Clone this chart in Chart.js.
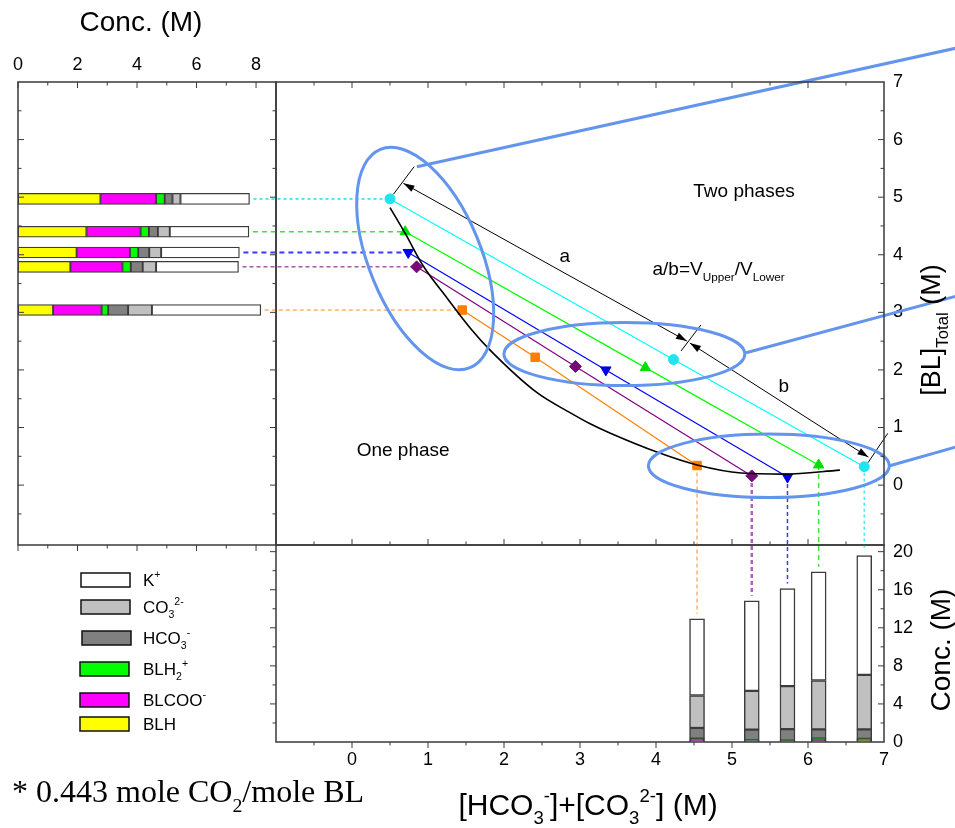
<!DOCTYPE html>
<html>
<head>
<meta charset="utf-8">
<title>BL / K2CO3 phase diagram</title>
<script src="https://cdn.jsdelivr.net/npm/chart.js@4.4.1/dist/chart.umd.min.js"></script>
<style>
  html, body { margin: 0; padding: 0; background: #fff; }
  #wrap { position: relative; width: 955px; height: 828px; overflow: hidden; }
  #wrap canvas { position: absolute; left: 0; top: 0; }
</style>
</head>
<body>
<div id="wrap">
  <canvas id="leftCanvas" width="955" height="828"></canvas>
  <canvas id="bottomCanvas" width="955" height="828"></canvas>
  <canvas id="mainCanvas" width="955" height="828"></canvas>
</div>
<script>
// ================= DATA =================
// tie lines, order: cyan, green, blue, purple, orange
const upperX = [0.50, 0.70, 0.74, 0.85, 1.45];
const upperY = [4.97, 4.40, 4.04, 3.79, 3.04];
const midX   = [4.23, 3.86, 3.34, 2.94, 2.41];
const midY   = [2.18, 2.04, 2.00, 2.06, 2.22];
const lowerX = [6.74, 6.14, 5.73, 5.26, 4.54];
const lowerY = [0.32, 0.35, 0.14, 0.16, 0.34];

// binodal curve
const curveX = [0.50, 0.70, 0.94, 1.25, 1.56, 1.82, 2.44, 2.88, 3.14, 3.40, 4.02, 4.54, 5.12, 5.69, 6.42];
const curveY = [4.82, 4.37, 3.80, 3.25, 2.72, 2.34, 1.60, 1.25, 1.06, 0.90, 0.57, 0.35, 0.21, 0.19, 0.26];

// upper phase composition (M) -> left bars
const upBLH   = [2.77, 2.30, 1.97, 1.76, 1.18];
const upBLCOO = [1.87, 1.82, 1.79, 1.75, 1.63];
const upBLH2  = [0.29, 0.28, 0.28, 0.28, 0.22];
const upHCO3  = [0.26, 0.30, 0.37, 0.40, 0.67];
const upCO3   = [0.27, 0.40, 0.40, 0.45, 0.80];
const upK     = [2.32, 2.66, 2.63, 2.77, 3.66];

// lower phase composition (M) -> bottom bars
const lowBLH   = [0.20, 0.12, 0.08, 0.05, 0.12];
const lowBLCOO = [0.07, 0.18, 0.04, 0.09, 0.17];
const lowBLH2  = [0.05, 0.05, 0.02, 0.02, 0.05];
const lowHCO3  = [1.01, 0.98, 1.22, 1.14, 1.13];
const lowCO3   = [5.73, 5.13, 4.51, 4.08, 3.42];
const lowK     = [12.52, 11.42, 10.26, 9.46, 8.06];

// tick labels
const concTicks    = [0, 2, 4, 6, 8];
const blTicks      = [0, 1, 2, 3, 4, 5, 6, 7];
const carbTicks    = [0, 1, 2, 3, 4, 5, 6, 7];
const lowConcTicks = [0, 4, 8, 12, 16, 20];

// annotations (data coords of main panel)
const dimA = [[0.677, 5.240], [4.406, 2.501]];
const dimB = [[4.446, 2.466], [6.794, 0.486]];
const dimTicks = [
  [[0.545, 5.05], [0.818, 5.53]],
  [[4.33, 2.33], [4.59, 2.78]],
  [[6.79, 0.39], [7.05, 0.90]]
];
const ellipseCenters = [[0.963, 3.934], [3.584, 2.275], [5.485, 0.335]];
const callouts = [
  [[0.854, 5.529], [7.955, 7.59]],
  [[5.185, 2.298], [7.955, 3.283]],
  [[7.075, 0.335], [7.955, 0.665]]
];

// ================= STYLE =================
const SANS = "'Liberation Sans', Arial, sans-serif";
const SERIF = "'Liberation Serif', 'Times New Roman', serif";
const FRAME = "#3a3a3a";
const tickFont = { family: SANS, size: 18 };

const speciesColors = ["#ffff00", "#ff00ff", "#00ff00", "#808080", "#c0c0c0", "#ffffff"];
const speciesLabels = [
  [["BLH", 0]],
  [["BLCOO", 0], ["-", 2]],
  [["BLH", 0], ["2", 1], ["+", 2]],
  [["HCO", 0], ["3", 1], ["-", 2]],
  [["CO", 0], ["3", 1], ["2-", 2]],
  [["K", 0], ["+", 2]]
];
// legend rows, top to bottom: K+, CO3, HCO3, BLH2, BLCOO, BLH
const legendTop = [573, 600, 631, 662, 693, 717];
const legendLeft = [81, 81, 82, 80, 80, 80];

const tieLine  = ["#00ffff", "#00ff00", "#0000ff", "#800080", "#ff8000"];
const tiePoint = ["#1ee6f0", "#00e000", "#0000ee", "#760a76", "#ff7f00"];
const tieShape = ["circle", "triangle", "triangle", "rectRot", "rect"];
const tieRot   = [0, 0, 180, 0, 0];
const tieRad   = [5, 6, 6, 6, 6];
const hDash  = [{ c: "#44e8f4", w: 2, d: [3, 3] }, { c: "#40e040", w: 1.5, d: [5, 4] },
                { c: "#3a3aff", w: 2, d: [5, 4] }, { c: "#800080", w: 1, d: [4, 3] },
                { c: "#ff8c1a", w: 1, d: [4, 3] }];
const vDash  = [{ c: "#44e8f4", w: 1.5, d: [3, 3] }, { c: "#40e040", w: 1.5, d: [5, 4] },
                { c: "#3a3aff", w: 1.5, d: [4, 3] }, { c: "#b060c0", w: 2.5, d: [4, 3] },
                { c: "#ff8c1a", w: 1, d: [4, 3] }];
const ellipseR = [[118, 56, 67.7], [120.5, 31.5, 0], [120.5, 31.7, 0]];

// ================= HELPERS =================
function total(arrays, i) {
  return arrays.reduce((s, a) => s + a[i], 0);
}

// parts: [text, mode] mode 0 normal, 1 sub, 2 sup ; y is baseline
function richText(ctx, parts, x, y, size, opt) {
  opt = opt || {};
  const family = opt.family || SANS;
  const small = size * 0.62;
  ctx.save();
  ctx.translate(x, y);
  if (opt.angle) ctx.rotate(opt.angle);
  ctx.fillStyle = "#000";
  ctx.textBaseline = "alphabetic";
  ctx.textAlign = "left";
  let w = 0;
  parts.forEach(([t, m]) => {
    ctx.font = (m ? small : size) + "px " + family;
    w += ctx.measureText(t).width;
  });
  let cx = opt.align === "center" ? -w / 2 : opt.align === "right" ? -w : 0;
  parts.forEach(([t, m]) => {
    ctx.font = (m ? small : size) + "px " + family;
    const dy = m === 1 ? size * 0.3 : m === 2 ? -size * 0.45 : 0;
    ctx.fillText(t, cx, dy);
    cx += ctx.measureText(t).width;
  });
  ctx.restore();
}

function tickMarks(ctx, scale, from, to, step, major, edge, dir) {
  for (let v = from; v <= to + 1e-9; v += step) {
    const p = scale.getPixelForValue(v);
    const isMajor = Math.abs(v / major - Math.round(v / major)) < 1e-6;
    const len = isMajor ? 6 : 3.5;
    ctx.beginPath();
    if (scale.isHorizontal()) { ctx.moveTo(p, edge); ctx.lineTo(p, edge + dir * len); }
    else { ctx.moveTo(edge, p); ctx.lineTo(edge + dir * len, p); }
    ctx.stroke();
  }
}

function frame(ctx, a) {
  ctx.strokeStyle = FRAME;
  ctx.lineWidth = 1.5;
  ctx.strokeRect(a.left, a.top, a.right - a.left, a.bottom - a.top);
  ctx.lineWidth = 1;
}

function arrowHead(ctx, x0, y0, x1, y1) {
  const ang = Math.atan2(y1 - y0, x1 - x0);
  const L = 11, W = 3.5;
  ctx.beginPath();
  ctx.moveTo(x1, y1);
  ctx.lineTo(x1 - L * Math.cos(ang) + W * Math.sin(ang), y1 - L * Math.sin(ang) - W * Math.cos(ang));
  ctx.lineTo(x1 - L * Math.cos(ang) - W * Math.sin(ang), y1 - L * Math.sin(ang) + W * Math.cos(ang));
  ctx.closePath();
  ctx.fill();
}

const upSeries = [upBLH, upBLCOO, upBLH2, upHCO3, upCO3, upK];
const lowSeries = [lowBLH, lowBLCOO, lowBLH2, lowHCO3, lowCO3, lowK];

const baseOptions = {
  responsive: false,
  animation: false,
  devicePixelRatio: 1,
  plugins: { legend: { display: false }, tooltip: { enabled: false } }
};

// ================= LEFT PANEL (upper phase) =================
const leftDecor = {
  id: "leftDecor",
  afterDraw(chart) {
    const { ctx, chartArea: a, scales: { x, y } } = chart;
    ctx.save();
    frame(ctx, a);
    tickMarks(ctx, x, 0, 8, 1, 2, a.top, 1);
    tickMarks(ctx, x, 0, 8, 1, 2, a.bottom, 1);
    tickMarks(ctx, y, -0.5, 6.5, 0.5, 1, a.left, 1);
    tickMarks(ctx, y, -0.5, 6.5, 0.5, 1, a.right, -1);
    richText(ctx, [["Conc. (M)", 0]], 141, 31, 28, { align: "center" });
    ctx.restore();
  }
};

const leftChart = new Chart(document.getElementById("leftCanvas"), {
  type: "bar",
  data: {
    datasets: upSeries.map((vals, s) => ({
      data: vals.map((v, i) => ({ x: v, y: upperY[i] })),
      backgroundColor: speciesColors[s],
      borderColor: "#3c3c3c",
      borderWidth: 1.3,
      borderSkipped: false,
      barThickness: 11
    }))
  },
  options: {
    ...baseOptions,
    indexAxis: "y",
    layout: { padding: { left: 18, top: 0, right: 679, bottom: 283 }, autoPadding: false },
    scales: {
      x: {
        type: "linear", position: "top", min: 0, max: 8.67, stacked: true, offset: false,
        grid: { display: false, drawTicks: false }, border: { display: false },
        ticks: { font: tickFont, color: "#000", padding: 6 },
        afterBuildTicks: s => { s.ticks = concTicks.map(v => ({ value: v })); },
        afterFit: s => { s.height = 82; }
      },
      y: { type: "linear", min: -1.04, max: 7, stacked: true, offset: false, display: false }
    }
  },
  plugins: [leftDecor]
});

// ================= BOTTOM PANEL (lower phase) =================
const bottomDecor = {
  id: "bottomDecor",
  afterDraw(chart) {
    const { ctx, chartArea: a, scales: { x, y } } = chart;
    ctx.save();
    frame(ctx, a);
    tickMarks(ctx, x, -0.5, 6.5, 0.5, 1, a.bottom, 1);
    tickMarks(ctx, y, 2, 20, 2, 4, a.right, -1);
    tickMarks(ctx, y, 2, 20, 2, 4, a.left, -1);

    // legend
    for (let r = 0; r < 6; r++) {
      const s = 5 - r;
      ctx.fillStyle = speciesColors[s];
      ctx.fillRect(legendLeft[r], legendTop[r], 49, 14);
      ctx.strokeStyle = "#111";
      ctx.lineWidth = 1.5;
      ctx.strokeRect(legendLeft[r], legendTop[r], 49, 14);
      richText(ctx, speciesLabels[s], 143, legendTop[r] + 13, 17);
    }

    richText(ctx, [["[HCO", 0], ["3", 1], ["-", 2], ["]+[CO", 0], ["3", 1], ["2-", 2], ["] (M)", 0]],
      588, 815, 30, { align: "center" });
    richText(ctx, [["Conc. (M)", 0]], 950, 650, 28, { align: "center", angle: -Math.PI / 2 });
    richText(ctx, [["* 0.443 mole CO", 0], ["2", 1], ["/mole BL", 0]], 12, 802, 32, { family: SERIF });
    ctx.restore();
  }
};

const bottomChart = new Chart(document.getElementById("bottomCanvas"), {
  type: "bar",
  data: {
    datasets: lowSeries.map((vals, s) => ({
      data: vals.map((v, i) => ({ x: lowerX[i], y: v })),
      backgroundColor: speciesColors[s],
      borderColor: "#3c3c3c",
      borderWidth: 1.5,
      borderSkipped: false,
      barThickness: 15
    }))
  },
  options: {
    ...baseOptions,
    layout: { padding: { left: 276, top: 545, right: 0, bottom: 0 }, autoPadding: false },
    scales: {
      x: {
        type: "linear", position: "bottom", min: -1, max: 7, stacked: true, offset: false,
        grid: { display: false, drawTicks: false }, border: { display: false },
        ticks: { font: tickFont, color: "#000", padding: 7 },
        afterBuildTicks: s => { s.ticks = carbTicks.map(v => ({ value: v })); },
        afterFit: s => { s.height = 86; }
      },
      y: {
        type: "linear", position: "right", min: 0, max: 20.7, stacked: true,
        grid: { display: false, drawTicks: false }, border: { display: false },
        ticks: { font: tickFont, color: "#000", padding: 9 },
        afterBuildTicks: s => { s.ticks = lowConcTicks.map(v => ({ value: v })); },
        afterFit: s => { s.width = 71; }
      }
    }
  },
  plugins: [bottomDecor]
});

// ================= MAIN PANEL (phase diagram) =================
const mainDecor = {
  id: "mainDecor",
  beforeDatasetsDraw(chart) {
    const { ctx, scales: { x, y } } = chart;
    ctx.save();
    for (let i = 0; i < upperX.length; i++) {
      // to the left bar
      ctx.strokeStyle = hDash[i].c;
      ctx.lineWidth = hDash[i].w;
      ctx.setLineDash(hDash[i].d);
      const py = y.getPixelForValue(upperY[i]);
      ctx.beginPath();
      ctx.moveTo(leftChart.scales.x.getPixelForValue(total(upSeries, i)) + 4, py);
      ctx.lineTo(x.getPixelForValue(upperX[i]), py);
      ctx.stroke();
      // down to the bottom bar
      ctx.strokeStyle = vDash[i].c;
      ctx.lineWidth = vDash[i].w;
      ctx.setLineDash(vDash[i].d);
      const px = x.getPixelForValue(lowerX[i]);
      ctx.beginPath();
      ctx.moveTo(px, y.getPixelForValue(lowerY[i]));
      ctx.lineTo(px, bottomChart.scales.y.getPixelForValue(total(lowSeries, i)) - 5);
      ctx.stroke();
    }
    ctx.restore();
  },
  afterDraw(chart) {
    const { ctx, chartArea: a, scales: { x, y } } = chart;
    const P = p => [x.getPixelForValue(p[0]), y.getPixelForValue(p[1])];
    ctx.save();

    // a / b dimension lines
    ctx.strokeStyle = "#000";
    ctx.fillStyle = "#000";
    ctx.lineWidth = 1;
    [dimA, dimB].forEach(d => {
      const [x0, y0] = P(d[0]);
      const [x1, y1] = P(d[1]);
      ctx.beginPath();
      ctx.moveTo(x0, y0);
      ctx.lineTo(x1, y1);
      ctx.stroke();
      arrowHead(ctx, x1, y1, x0, y0);
      arrowHead(ctx, x0, y0, x1, y1);
    });
    dimTicks.forEach(t => {
      const [x0, y0] = P(t[0]);
      const [x1, y1] = P(t[1]);
      ctx.beginPath();
      ctx.moveTo(x0, y0);
      ctx.lineTo(x1, y1);
      ctx.stroke();
    });

    // labels
    let p = P([5.158, 4.996]);
    richText(ctx, [["Two phases", 0]], p[0], p[1], 19, { align: "center" });
    p = P([3.954, 3.648]);
    richText(ctx, [["a/b=V", 0], ["Upper", 1], ["/V", 0], ["Lower", 1]], p[0], p[1], 19);
    p = P([0.673, 0.504]);
    richText(ctx, [["One phase", 0]], p[0], p[1], 19, { align: "center" });
    p = P([2.80, 3.88]);
    richText(ctx, [["a", 0]], p[0], p[1], 19, { align: "center" });
    p = P([5.68, 1.62]);
    richText(ctx, [["b", 0]], p[0], p[1], 19, { align: "center" });

    // ellipses + callout lines
    ctx.strokeStyle = "#6495ed";
    ctx.lineWidth = 3;
    ellipseCenters.forEach((c, i) => {
      const [cx, cy] = P(c);
      ctx.beginPath();
      ctx.ellipse(cx, cy, ellipseR[i][0], ellipseR[i][1], ellipseR[i][2] * Math.PI / 180, 0, 2 * Math.PI);
      ctx.stroke();
    });
    callouts.forEach(c => {
      const [x0, y0] = P(c[0]);
      const [x1, y1] = P(c[1]);
      ctx.beginPath();
      ctx.moveTo(x0, y0);
      ctx.lineTo(x1, y1);
      ctx.stroke();
    });

    frame(ctx, a);
    tickMarks(ctx, x, -0.5, 6.5, 0.5, 1, a.top, 1);
    tickMarks(ctx, x, -0.5, 6.5, 0.5, 1, a.bottom, -1);
    tickMarks(ctx, y, -0.5, 6.5, 0.5, 1, a.right, -1);
    richText(ctx, [["[BL]", 0], ["Total", 1], [" (M)", 0]], 940, 330, 27,
      { align: "center", angle: -Math.PI / 2 });
    ctx.restore();
  }
};

const tieSets = upperX.map((ux, i) => ({
  data: [
    { x: ux, y: upperY[i] },
    { x: midX[i], y: midY[i] },
    { x: lowerX[i], y: lowerY[i] }
  ],
  borderColor: tieLine[i],
  borderWidth: 1.2,
  pointBackgroundColor: tiePoint[i],
  pointBorderColor: tiePoint[i],
  pointBorderWidth: 1,
  pointStyle: tieShape[i],
  pointRotation: tieRot[i],
  pointRadius: tieRad[i],
  tension: 0,
  fill: false
}));

const mainChart = new Chart(document.getElementById("mainCanvas"), {
  type: "line",
  data: {
    datasets: [
      {
        data: curveX.map((cx, i) => ({ x: cx, y: curveY[i] })),
        borderColor: "#000",
        borderWidth: 1.6,
        pointRadius: 0,
        cubicInterpolationMode: "monotone",
        fill: false
      },
      ...tieSets
    ]
  },
  options: {
    ...baseOptions,
    layout: { padding: { left: 276, top: 82, right: 0, bottom: 283 }, autoPadding: false },
    scales: {
      x: { type: "linear", min: -1, max: 7, display: false },
      y: {
        type: "linear", position: "right", min: -1.04, max: 7,
        grid: { display: false, drawTicks: false }, border: { display: false },
        ticks: { font: tickFont, color: "#000", padding: 9 },
        afterBuildTicks: s => { s.ticks = blTicks.map(v => ({ value: v })); },
        afterFit: s => { s.width = 71; }
      }
    }
  },
  plugins: [mainDecor]
});
</script>
</body>
</html>
